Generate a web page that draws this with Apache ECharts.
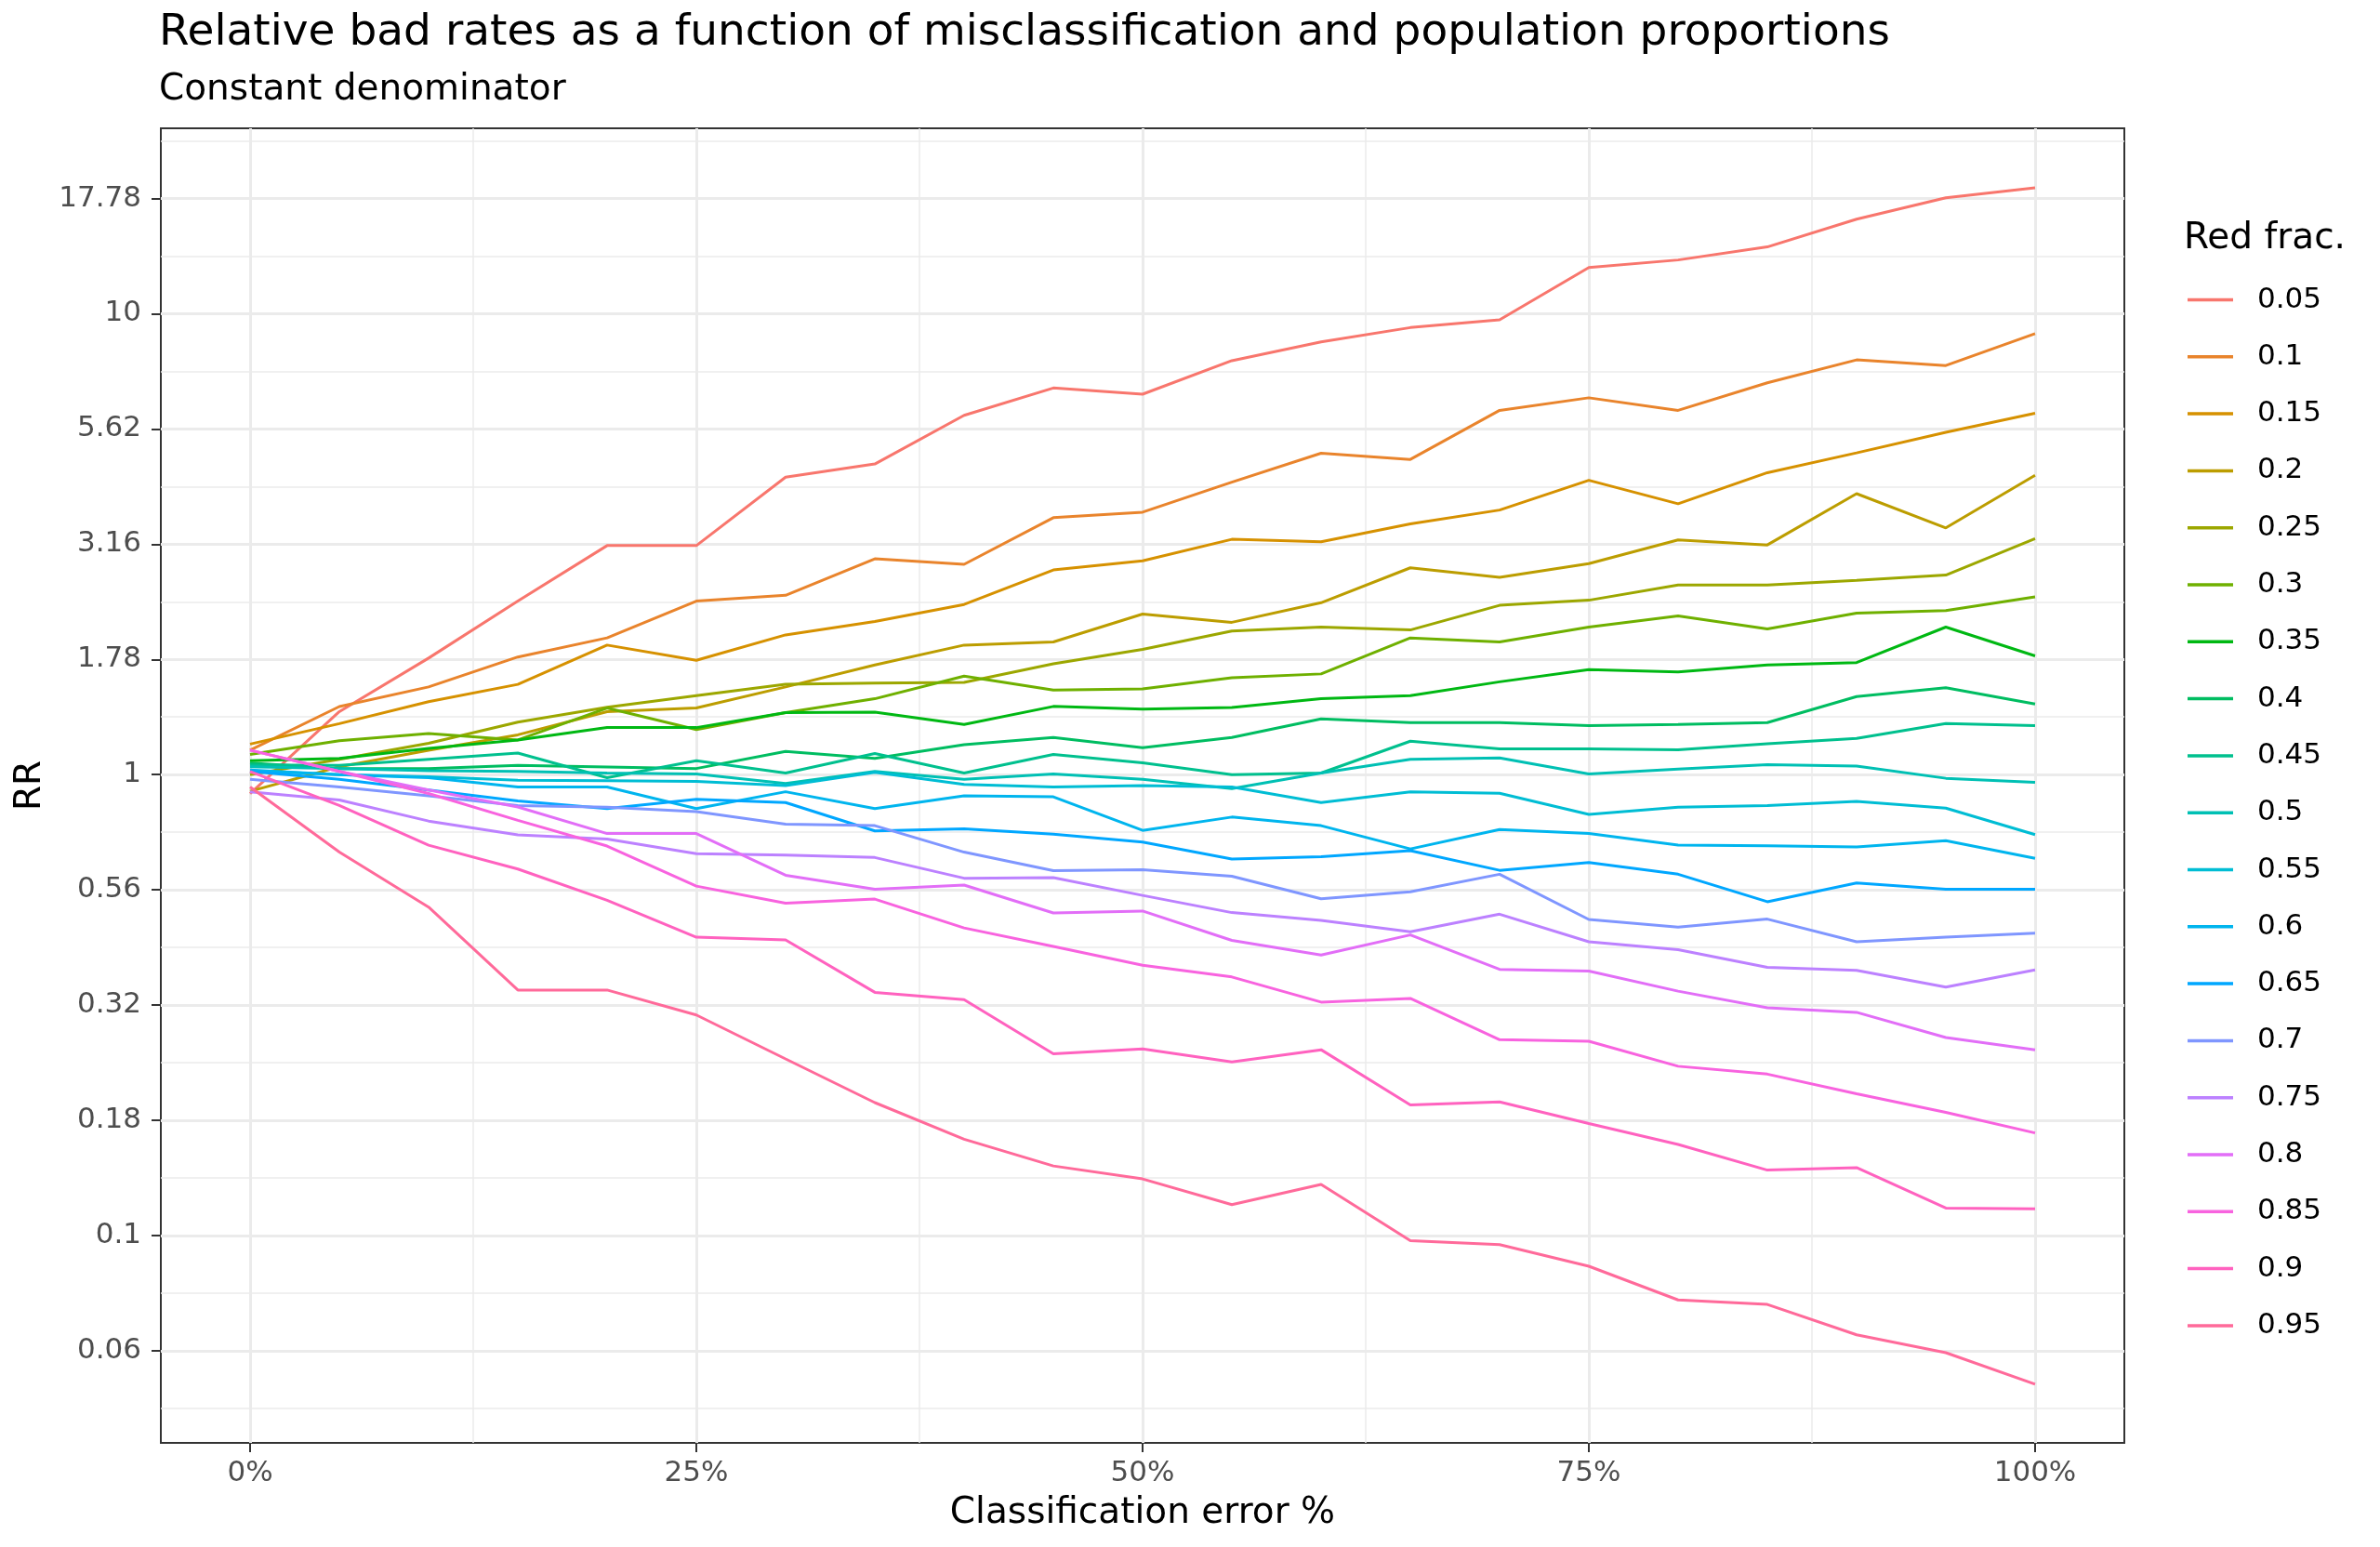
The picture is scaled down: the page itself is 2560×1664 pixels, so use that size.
<!DOCTYPE html>
<html><head><meta charset="utf-8">
<script src="https://cdn.jsdelivr.net/npm/echarts@6/dist/echarts.min.js"></script>
<style>html,body{margin:0;padding:0;background:#fff}#c{width:2560px;height:1664px}</style>
</head><body><div id="c"></div>
<script>
// ---------- data ----------
const errorPct = [0,5,10,15,20,25,30,35,40,45,50,55,60,65,70,75,80,85,90,95,100];
const redFrac = ['0.05','0.1','0.15','0.2','0.25','0.3','0.35','0.4','0.45','0.5','0.55','0.6','0.65','0.7','0.75','0.8','0.85','0.9','0.95'];

const rr05 = [0.91,1.37,1.79,2.38,3.14,3.14,4.42,4.72,6.02,6.90,6.69,7.91,8.69,9.33,9.70,12.6,13.08,13.96,16.04,17.84,18.76];
const rr10 = [1.13,1.405,1.55,1.80,1.98,2.38,2.45,2.94,2.86,3.61,3.71,4.31,4.98,4.83,6.17,6.57,6.17,7.08,7.94,7.72,9.05];
const rr15 = [1.165,1.29,1.44,1.57,1.91,1.77,2.01,2.15,2.34,2.78,2.91,3.24,3.20,3.50,3.75,4.35,3.87,4.52,4.99,5.53,6.08];
const rr20 = [0.92,1.04,1.13,1.22,1.37,1.395,1.55,1.73,1.91,1.94,2.23,2.14,2.36,2.81,2.68,2.87,3.23,3.15,4.07,3.43,4.46];
const rr25 = [1.00,1.08,1.17,1.30,1.40,1.484,1.571,1.58,1.586,1.74,1.87,2.05,2.09,2.06,2.33,2.39,2.58,2.58,2.64,2.71,3.25];
const rr30 = [1.106,1.184,1.228,1.189,1.395,1.252,1.363,1.461,1.636,1.526,1.535,1.623,1.654,1.98,1.94,2.09,2.21,2.07,2.24,2.27,2.43];
const rr35 = [1.072,1.084,1.14,1.189,1.265,1.265,1.363,1.367,1.285,1.406,1.388,1.399,1.461,1.484,1.59,1.69,1.67,1.73,1.75,2.09,1.81];
const rr40 = [1.06,1.03,1.03,1.047,1.039,1.031,1.123,1.084,1.162,1.204,1.144,1.204,1.321,1.297,1.297,1.277,1.285,1.297,1.477,1.543,1.423];
const rr45 = [1.05,1.047,1.08,1.114,0.985,1.072,1.008,1.111,1.008,1.106,1.061,1.0,1.008,1.182,1.137,1.137,1.132,1.167,1.198,1.291,1.277];
const rr50 = [1.04,1.03,1.02,1.016,1.008,1.003,0.957,1.016,0.977,1.003,0.977,0.933,1.008,1.080,1.087,1.003,1.028,1.051,1.044,0.982,0.962];
const rr55 = [1.02,1.0,0.99,0.972,0.970,0.967,0.947,1.012,0.952,0.940,0.947,0.940,0.870,0.918,0.911,0.820,0.850,0.857,0.875,0.846,0.741];
const rr60 = [1.023,1.0,0.985,0.940,0.940,0.844,0.918,0.844,0.900,0.895,0.757,0.809,0.775,0.690,0.760,0.745,0.703,0.701,0.697,0.719,0.658];
const rr65 = [1.016,0.977,0.926,0.877,0.844,0.884,0.870,0.755,0.763,0.743,0.714,0.656,0.664,0.684,0.62,0.645,0.608,0.530,0.582,0.564,0.564];
const rr70 = [0.977,0.940,0.900,0.857,0.850,0.831,0.781,0.775,0.679,0.619,0.622,0.602,0.538,0.557,0.608,0.485,0.467,0.486,0.434,0.444,0.453];
const rr75 = [0.918,0.881,0.793,0.740,0.725,0.674,0.669,0.661,0.596,0.598,0.547,0.502,0.483,0.456,0.498,0.434,0.417,0.382,0.376,0.346,0.377];
const rr80 = [1.13,1.016,0.926,0.851,0.745,0.745,0.605,0.564,0.576,0.501,0.506,0.437,0.406,0.449,0.378,0.375,0.339,0.312,0.305,0.269,0.253];
const rr85 = [1.13,1.016,0.91,0.796,0.700,0.573,0.526,0.537,0.465,0.424,0.386,0.364,0.321,0.327,0.266,0.264,0.233,0.224,0.203,0.185,0.167];
const rr90 = [1.016,0.857,0.703,0.624,0.534,0.444,0.438,0.337,0.325,0.248,0.254,0.238,0.253,0.192,0.195,0.175,0.1576,0.1387,0.1404,0.1147,0.1143];
const rr95 = [0.94,0.679,0.516,0.341,0.341,0.301,0.2417,0.1943,0.1618,0.1416,0.1327,0.1167,0.1291,0.0975,0.0956,0.0858,0.0725,0.0709,0.0609,0.0557,0.0476];

const seriesValues = [rr05,rr10,rr15,rr20,rr25,rr30,rr35,rr40,rr45,rr50,rr55,rr60,rr65,rr70,rr75,rr80,rr85,rr90,rr95];

// axis ticks
const yTickValues = [0.0562341,0.1,0.1778279,0.3162278,0.5623413,1,1.7782794,3.1622777,5.6234133,10,17.7827941];
const yMinorValues = [0.0421697,0.0749894,0.1333521,0.2371374,0.4216965,0.7498942,1.3335214,2.3713737,4.2169650,7.4989421,13.3352143,23.7137371];
const xTickValues = [0,25,50,75,100];
const xMinorValues = [12.5,37.5,62.5,87.5];
const yMin = 0.0355, yMax = 25.25;

// ggplot2 default hue palette (hcl, c=100, l=65)
function hcl(h, c, l) {
  const WX = 95.047, WY = 100.0, WZ = 108.883;
  const den = WX + 15 * WY + 3 * WZ;
  const un = 4 * WX / den, vn = 9 * WY / den;
  const hr = h * Math.PI / 180;
  const U = c * Math.cos(hr), V = c * Math.sin(hr);
  const Y = WY * (l > 7.999592 ? Math.pow((l + 16) / 116, 3) : l / 903.3);
  const u = U / (13 * l) + un, v = V / (13 * l) + vn;
  const X = 9 * Y * u / (4 * v);
  const Z = -X / 3 - 5 * Y + 3 * Y / v;
  const g = t => { t = t <= 0.0031308 ? 12.92 * t : 1.055 * Math.pow(t, 1 / 2.4) - 0.055; return Math.round(255 * Math.min(1, Math.max(0, t))); };
  const r = g((3.240479 * X - 1.537150 * Y - 0.498535 * Z) / WY);
  const gg = g((-0.969256 * X + 1.875992 * Y + 0.041556 * Z) / WY);
  const b = g((0.055648 * X - 0.204043 * Y + 1.057311 * Z) / WY);
  return '#' + [r, gg, b].map(n => n.toString(16).padStart(2, '0')).join('');
}
const n = redFrac.length;
const colors = redFrac.map((_, i) => hcl(15 + i * 360 / n, 100, 65));

const FONT = 'DejaVu Sans';
const chart = echarts.init(document.getElementById('c'), null, {renderer: 'canvas'});

const series = redFrac.map((name, i) => ({
  type: 'line',
  name: name,
  xAxisIndex: 0,
  yAxisIndex: 0,
  data: errorPct.map((x, j) => [x, seriesValues[i][j]]),
  showSymbol: false,
  symbol: 'none',
  smooth: false,
  lineStyle: {width: 3, color: colors[i]},
  itemStyle: {color: colors[i]},
  emphasis: {disabled: true},
  z: 3 + i * 0.01
}));

const option = {
  animation: false,
  backgroundColor: '#ffffff',
  textStyle: {fontFamily: FONT},
  color: colors,
  title: [
    {text: 'Relative bad rates as a function of misclassification and population proportions', left: 171, top: 12, padding: 0,
     textStyle: {fontFamily: FONT, fontSize: 47, fontWeight: 'normal', color: '#000000'}},
    {text: 'Constant denominator', left: 171, top: 77, padding: 0,
     textStyle: {fontFamily: FONT, fontSize: 39, fontWeight: 'normal', color: '#000000'}},
    {text: 'Red frac.', left: 2349, top: 237, padding: 0,
     textStyle: {fontFamily: FONT, fontSize: 39, fontWeight: 'normal', color: '#000000'}}
  ],
  legend: {
    orient: 'vertical',
    left: 2353,
    top: 307,
    padding: 0,
    itemGap: 30.3,
    itemWidth: 49,
    itemHeight: 3.5,
    icon: 'rect',
    data: redFrac,
    selectedMode: false,
    textStyle: {fontFamily: FONT, fontSize: 31, color: '#000000', lineHeight: 30, padding: [0, 0, 0, 21]}
  },
  grid: {left: 173, right: 275, top: 138, bottom: 112, show: true, borderColor: '#333333', borderWidth: 2, backgroundColor: '#ffffff'},
  xAxis: [
    {
      type: 'value', min: -5, max: 105, gridIndex: 0, position: 'bottom',
      axisLine: {show: false, onZero: false},
      axisTick: {show: true, length: 10, lineStyle: {color: '#333333', width: 2}, customValues: xTickValues},
      axisLabel: {customValues: xTickValues, formatter: v => v + '%', fontFamily: FONT, fontSize: 31, color: '#4D4D4D', margin: 17},
      splitLine: {show: true, lineStyle: {color: '#EBEBEB', width: 3}},
      name: 'Classification error %', nameLocation: 'middle', nameGap: 56,
      nameTextStyle: {fontFamily: FONT, fontSize: 39, color: '#000000'}
    },
    {
      type: 'value', min: -5, max: 105, gridIndex: 0, position: 'bottom',
      axisLine: {show: false, onZero: false},
      axisTick: {show: false, customValues: xMinorValues},
      axisLabel: {show: false, customValues: xMinorValues},
      splitLine: {show: true, lineStyle: {color: '#EBEBEB', width: 1.5}}
    }
  ],
  yAxis: [
    {
      type: 'log', logBase: 10, min: yMin, max: yMax, gridIndex: 0, position: 'left',
      axisLine: {show: false, onZero: false},
      axisTick: {show: true, length: 10, lineStyle: {color: '#333333', width: 2}, customValues: yTickValues},
      axisLabel: {customValues: yTickValues, formatter: v => String(parseFloat(Number(v).toFixed(2))), fontFamily: FONT, fontSize: 31, color: '#4D4D4D', margin: 21},
      splitLine: {show: true, lineStyle: {color: '#EBEBEB', width: 3}},
      name: 'RR', nameLocation: 'middle', nameGap: 118, nameRotate: 90,
      nameTextStyle: {fontFamily: FONT, fontSize: 39, color: '#000000'}
    },
    {
      type: 'log', logBase: 10, min: yMin, max: yMax, gridIndex: 0, position: 'left',
      axisLine: {show: false, onZero: false},
      axisTick: {show: false, customValues: yMinorValues},
      axisLabel: {show: false, customValues: yMinorValues},
      splitLine: {show: true, lineStyle: {color: '#EBEBEB', width: 1.5}}
    }
  ],
  series: series
};
chart.setOption(option);
</script>
</body></html>
